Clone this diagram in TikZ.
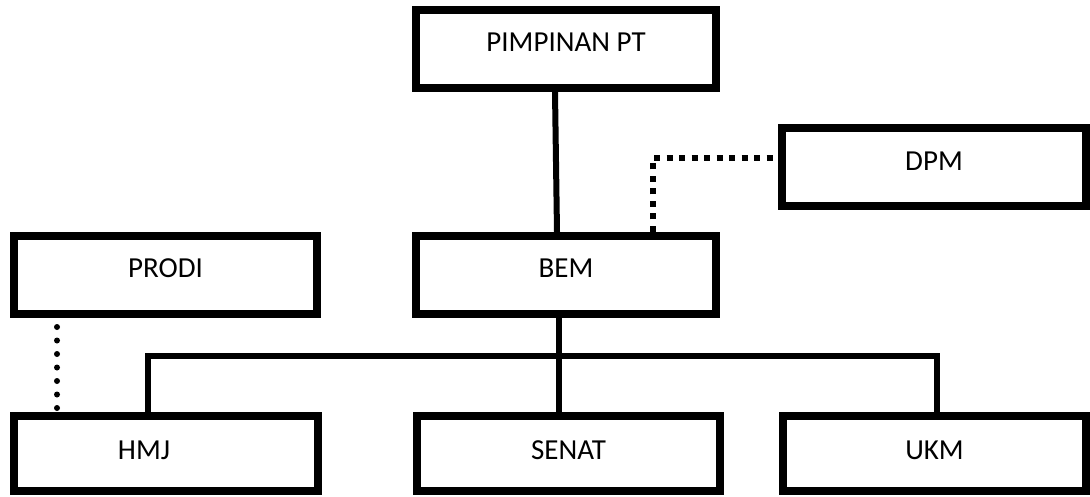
\documentclass[tikz,border=0pt]{standalone}
\usepackage{fontspec}
\setmainfont{Carlito}

\begin{document}
\begin{tikzpicture}[x=1pt,y=1pt,yscale=-1,xscale=1,
		unitbox/.style={draw=black, line width=8pt, inner sep=0pt, minimum width=302pt, minimum height=78pt, text depth=13pt, font=\fontsize{29}{34}\selectfont},
		lowbox/.style={unitbox, minimum height=75pt, text depth=7pt},
		link/.style={draw=black, line width=6pt},
		squaredots/.style={draw=black, line width=6pt, dash pattern=on 6pt off 6.5pt},
		rounddots/.style={draw=black, line width=6pt, line cap=round, dash pattern=on 0pt off 13.5pt}]

		% Set diagram area to 1090 x 497
		\path[use as bounding box] (0,0) rectangle (1090,497);

		% Top and middle row of units
		\node[unitbox, minimum width=300pt] (pimpinan) at (566,49) {PIMPINAN PT};
		\node[unitbox, minimum width=304pt, text depth=11pt] (dpm) at (934,167) {DPM};
		\node[unitbox, minimum width=303pt] (prodi) at (165.5,275) {PRODI};
		\node[unitbox, minimum width=300pt] (bem) at (566,275) {BEM};

		% Bottom row of units (label of HMJ sits left of the middle)
		\node[lowbox, minimum width=304pt] (hmj) at (166,453.5) {};
		\node[inner sep=0pt, text depth=7pt, font=\fontsize{29}{34}\selectfont] (hmjlabel) at (144,453.5) {HMJ};
		\node[lowbox, minimum width=303pt] (senat) at (568.5,453.5) {SENAT};
		\node[lowbox, minimum width=303pt] (ukm) at (934.5,453.5) {UKM};

		% Points where the connectors turn or leave the boxes
		\coordinate (pimfoot) at (555,88);
		\coordinate (bemhead) at (557,236);
		\coordinate (busleft) at (148,356);
		\coordinate (busmid) at (559,356);
		\coordinate (busright) at (937,356);
		\coordinate (dpmcorner) at (653,158);
		\coordinate (prodileg) at (57,0);

		% Solid lines: PIMPINAN PT down to BEM, BEM down to the bus
		\draw[link] (pimpinan.south -| pimfoot) -- (bem.north -| bemhead);
		\draw[link] (hmj.north -| busleft) -- (busleft) -- (busright) -- (ukm.north -| busright);
		\draw[link] (bem.south -| busmid) -- (senat.north -| busmid);

		% Dotted lines: DPM to BEM (square dots), PRODI to HMJ (round dots)
		\draw[squaredots] (bem.north -| dpmcorner) -- (dpmcorner) -- (dpmcorner -| dpm.west);
		\draw[rounddots, shorten <=9pt] (prodi.south -| prodileg) -- (hmj.north -| prodileg);
	\end{tikzpicture}
\end{document}
